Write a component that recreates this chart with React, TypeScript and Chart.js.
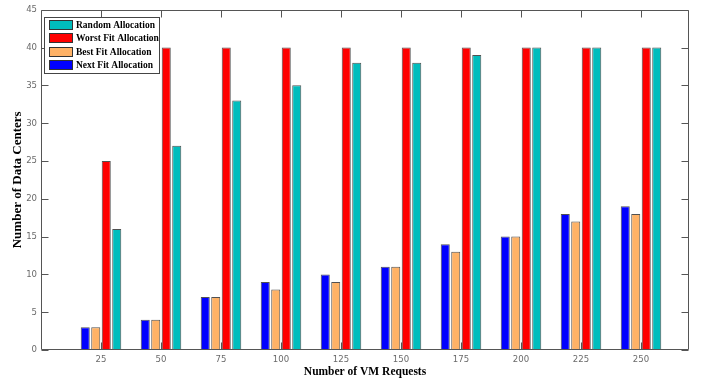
import React, { useEffect, useRef } from "react";
import { Chart, registerables } from "chart.js";

Chart.register(...registerables);

const categories = [25, 50, 75, 100, 125, 150, 175, 200, 225, 250];
const nextFit = [3, 4, 7, 9, 10, 11, 14, 15, 18, 19];
const bestFit = [3, 4, 7, 8, 9, 11, 13, 15, 17, 18];
const worstFit = [25, 40, 40, 40, 40, 40, 40, 40, 40, 40];
const randomAlloc = [16, 27, 33, 35, 38, 38, 39, 40, 40, 40];
const yTicks = [0, 5, 10, 15, 20, 25, 30, 35, 40, 45];

const AXIS_COLOR = "#555555";
const TICK_FONT = "'Liberation Sans Narrow', 'Arial Narrow', 'DejaVu Sans Condensed', sans-serif";
const SERIF = "'Liberation Serif', 'Times New Roman', serif";

const boxPlugin = {
  id: "boxAndLegend",
  afterDraw(chart: any) {
    const ctx = chart.ctx;
    const a = chart.chartArea;
    const xs = chart.scales.x;
    const ys = chart.scales.y;
    ctx.save();
    ctx.strokeStyle = AXIS_COLOR;
    ctx.lineWidth = 1;
    const L = Math.round(a.left) + 0.5;
    const R = Math.round(a.right) - 0.5;
    const T = Math.round(a.top) + 0.5;
    const B = Math.round(a.bottom) - 0.5;
    ctx.beginPath();
    ctx.rect(L, T, R - L, B - T);
    const tl = 7;
    categories.forEach((c) => {
      const px = Math.round(xs.getPixelForValue(c)) + 0.5;
      ctx.moveTo(px, B);
      ctx.lineTo(px, B - tl);
      ctx.moveTo(px, T);
      ctx.lineTo(px, T + tl);
    });
    yTicks.forEach((v) => {
      const py = Math.round(ys.getPixelForValue(v)) + 0.5;
      ctx.moveTo(L, py);
      ctx.lineTo(L + tl, py);
      ctx.moveTo(R, py);
      ctx.lineTo(R - tl, py);
    });
    ctx.stroke();

    // legend
    const lx = 44.5, ly = 17.5, lw = 115, lh = 56;
    ctx.fillStyle = "#ffffff";
    ctx.fillRect(lx, ly, lw, lh);
    ctx.strokeStyle = "#444444";
    ctx.strokeRect(lx, ly, lw, lh);
    const ds = chart.data.datasets.slice().reverse();
    ctx.font = "bold 9.5px " + SERIF;
    ctx.textBaseline = "middle";
    ds.forEach((d: any, i: number) => {
      const cy = 25 + i * 13.4;
      ctx.fillStyle = d.backgroundColor;
      ctx.fillRect(49, Math.round(cy - 5), 24, 10);
      ctx.strokeStyle = "#333333";
      ctx.strokeRect(49.5, Math.round(cy - 5) + 0.5, 23, 9);
      ctx.fillStyle = "#000000";
      ctx.fillText(d.label, 76, cy + 0.5);
    });
    ctx.restore();
  },
};

function toPoints(vals: number[]) {
  return vals.map((y, i) => ({ x: categories[i], y }));
}

export default function App() {
  const ref = useRef<HTMLCanvasElement>(null);
  useEffect(() => {
    document.body.style.margin = "0";
    const barCommon = {
      borderWidth: 1,
      borderColor: "rgba(50,50,50,0.85)",
      barPercentage: 0.86,
      categoryPercentage: 0.7,
    };
    const chart = new Chart(ref.current as HTMLCanvasElement, {
      type: "bar",
      data: {
        datasets: [
          { label: "Next Fit Allocation", data: toPoints(nextFit) as any, backgroundColor: "#0000FF", ...barCommon },
          { label: "Best Fit Allocation", data: toPoints(bestFit) as any, backgroundColor: "#FFB266", ...barCommon },
          { label: "Worst Fit Allocation", data: toPoints(worstFit) as any, backgroundColor: "#FF0000", ...barCommon },
          { label: "Random Allocation", data: toPoints(randomAlloc) as any, backgroundColor: "#00BDBD", ...barCommon },
        ],
      },
      options: {
        responsive: false,
        animation: false,
        layout: { padding: { top: 5, right: 13, left: 0, bottom: 0 } },
        plugins: { legend: { display: false }, tooltip: { enabled: false } },
        scales: {
          x: {
            type: "linear",
            min: 0,
            max: 270,
            offset: false,
            grid: { display: false, drawTicks: false },
            border: { display: false },
            afterBuildTicks: (axis: any) => {
              axis.ticks = categories.map((v) => ({ value: v }));
            },
            afterFit: (scale: any) => {
              scale.height = 35;
            },
            ticks: {
              padding: 4,
              color: "#6a6a6a",
              font: { family: TICK_FONT, size: 9.5 },
              maxRotation: 0,
              autoSkip: false,
            },
            title: {
              display: true,
              text: "Number of VM Requests",
              color: "#000000",
              font: { family: SERIF, size: 11.5, weight: "bold" },
              padding: { top: 0, bottom: 6 },
            },
          },
          y: {
            min: 0,
            max: 45,
            grid: { display: false, drawTicks: false },
            border: { display: false },
            afterFit: (scale: any) => {
              scale.width = 41;
            },
            ticks: {
              stepSize: 5,
              padding: 4,
              color: "#6a6a6a",
              font: { family: TICK_FONT, size: 9.5 },
            },
            title: {
              display: true,
              text: "Number of Data Centers",
              color: "#000000",
              font: { family: SERIF, size: 13, weight: "bold" },
              padding: { top: 10, bottom: 0 },
            },
          },
        },
      },
      plugins: [boxPlugin],
    } as any);
    return () => chart.destroy();
  }, []);
  return (
    <div style={{ width: 702, height: 385 }}>
      <canvas ref={ref} width={702} height={385} style={{ display: "block" }} />
    </div>
  );
}
